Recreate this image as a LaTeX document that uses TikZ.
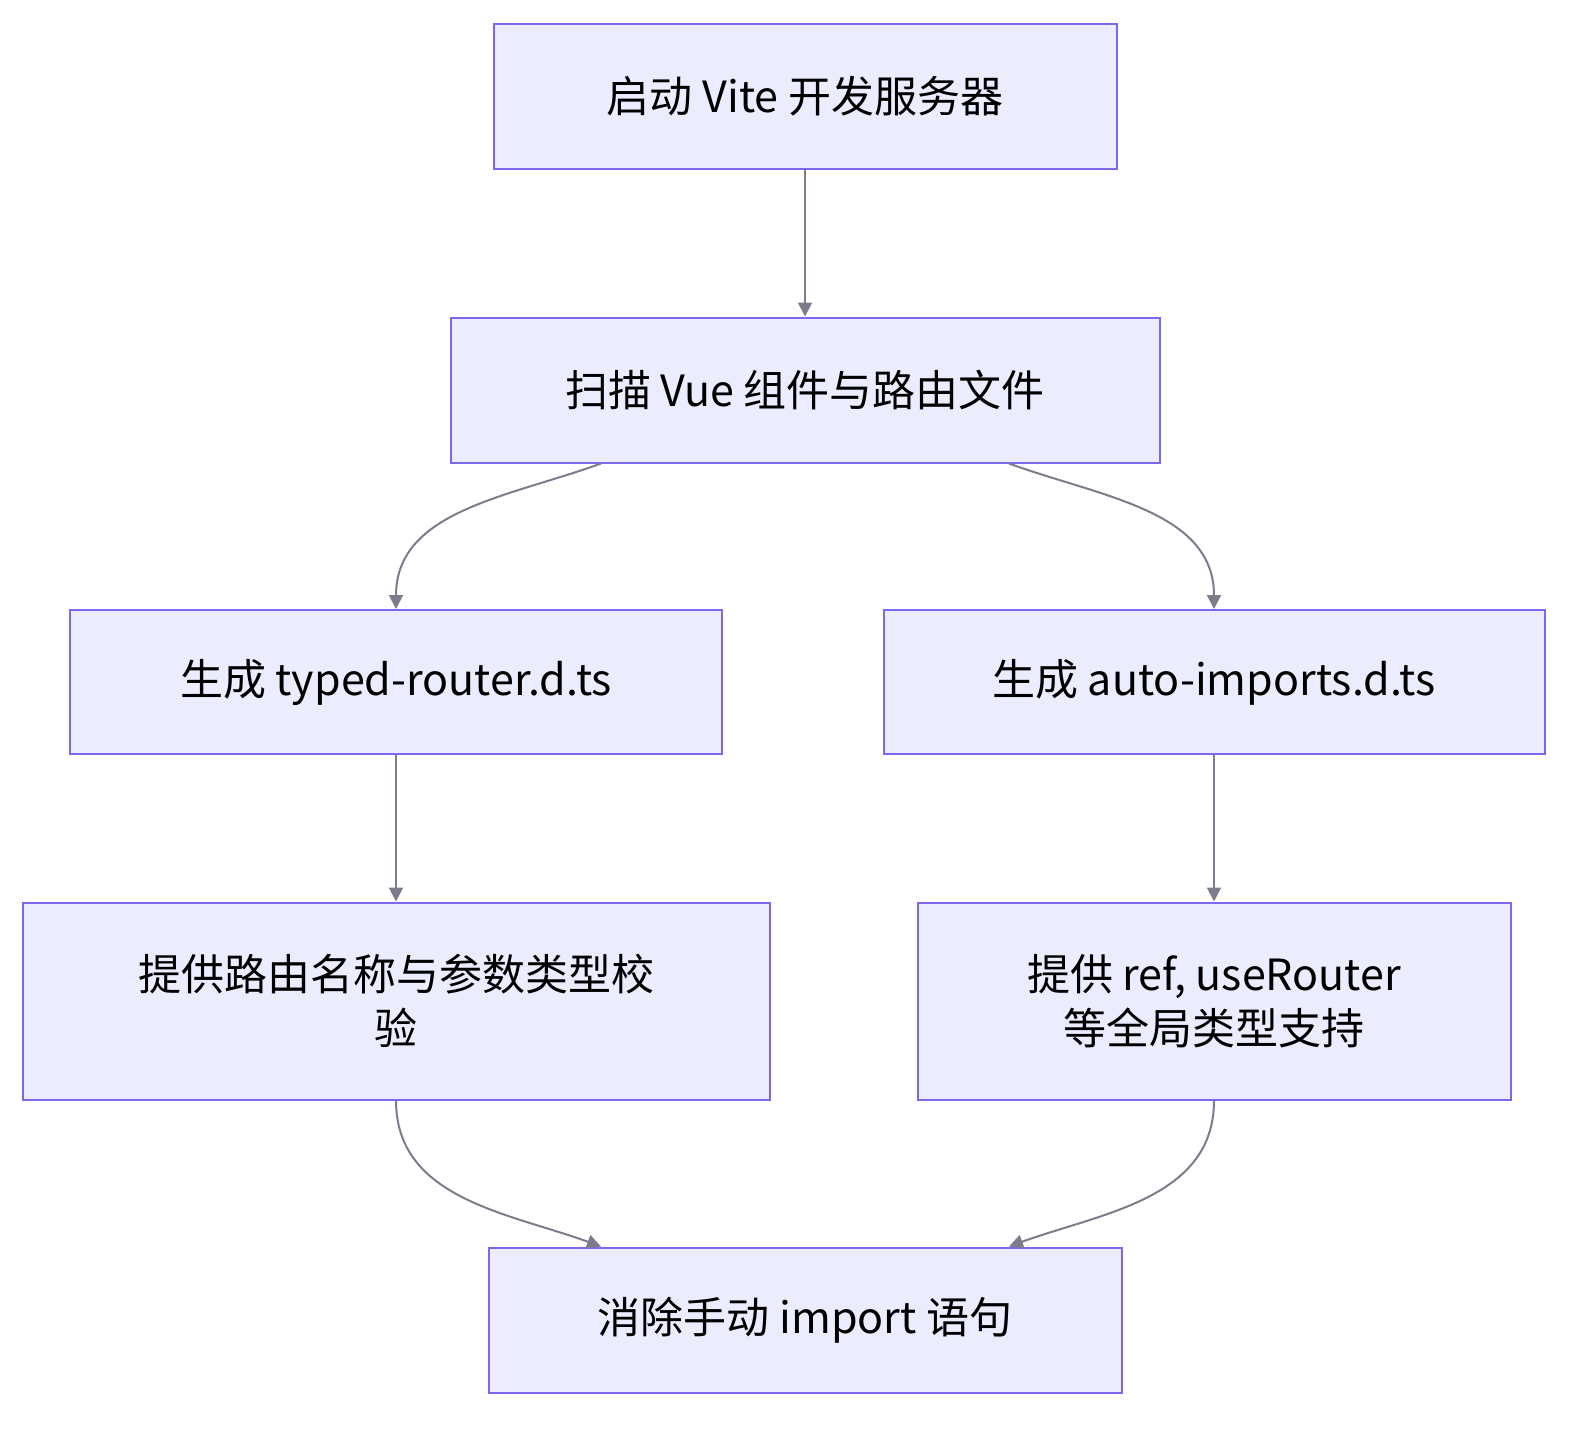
\documentclass[tikz,border=0pt]{standalone}
\usepackage{fontspec}
\setmainfont{Noto Sans CJK SC}
\usetikzlibrary{arrows.meta}
\definecolor{boxfill}{HTML}{ECECFF}
\definecolor{boxline}{HTML}{7B68EE}
\definecolor{linkgray}{HTML}{7C7C8C}
\begin{document}
\begin{tikzpicture}[
        x = 0.5pt,
        y = -0.5pt,
        semithick
    ]
    \tikzset{
        step box/.style = {
            draw = boxline,
            fill = boxfill,
            line width = 1pt,
            align = center,
            font = \fontsize{21.5}{27}\selectfont,
            inner sep = 0pt
        },
        link/.style = {
            draw = linkgray,
            line width = 1pt,
            -{Triangle[length=7pt,width=7pt]}
        }
    }
    \useasboundingbox (0,0) rectangle (1589,1435);

    \node[step box, minimum width=311.5pt, minimum height=72.5pt] (vite)   at (805, 96)   {启动 Vite 开发服务器};
    \node[step box, minimum width=354.5pt, minimum height=72.5pt] (scan)   at (805, 390)  {扫描 Vue 组件与路由文件};
    \node[step box, minimum width=326pt,   minimum height=72pt]   (router) at (396, 682)  {生成 typed-router.d.ts};
    \node[step box, minimum width=330.5pt, minimum height=72pt]   (auto)   at (1214, 682) {生成 auto-imports.d.ts};
    \node[step box, minimum width=373.5pt, minimum height=98.5pt] (check)  at (396, 1001) {提供路由名称与参数类型校\\验};
    \node[step box, minimum width=296.5pt, minimum height=98.5pt] (global) at (1214, 1001) {提供 ref, useRouter\\等全局类型支持};
    \node[step box, minimum width=316.5pt, minimum height=72.5pt] (noimp)  at (805, 1320) {消除手动 import 语句};

    \path[link] (vite) -- (scan);
    \path[link] ([xshift=-102pt]scan.south) to[out=200, in=90] (router.north);
    \path[link] ([xshift=102pt]scan.south) to[out=-20, in=90] (auto.north);
    \path[link] (router) -- (check);
    \path[link] (auto) -- (global);
    \path[link] (check.south) to[out=-90, in=160] ([xshift=-102pt]noimp.north);
    \path[link] (global.south) to[out=-90, in=20] ([xshift=102pt]noimp.north);

\end{tikzpicture}
\end{document}
